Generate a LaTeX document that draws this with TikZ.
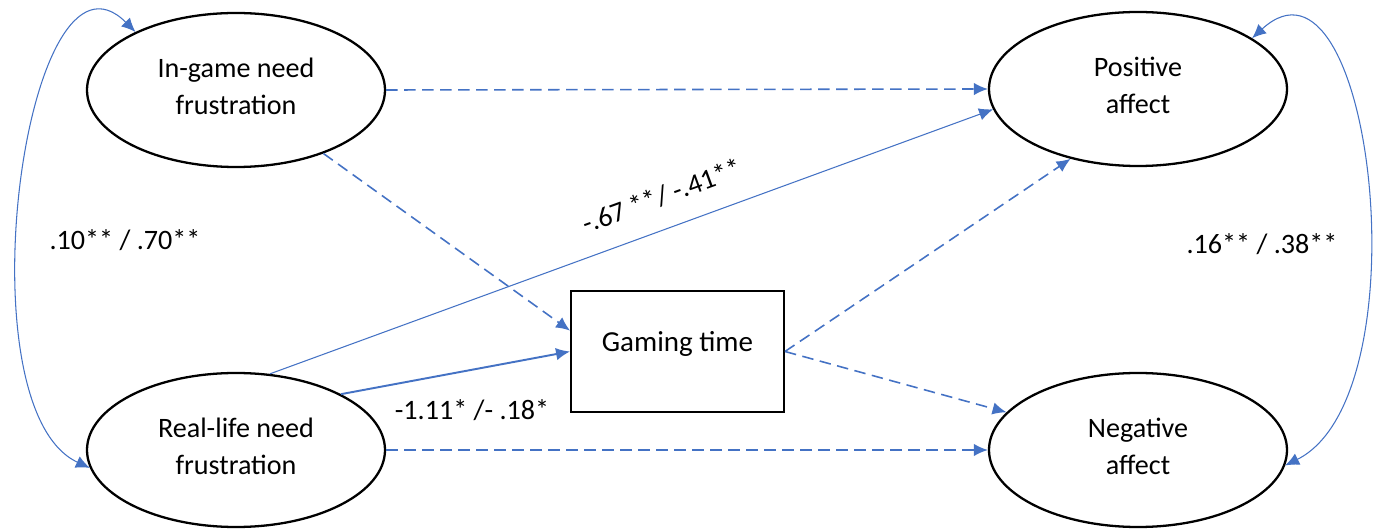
\documentclass[tikz,border=0pt]{standalone}
\usepackage{fontspec}
\setmainfont{Carlito}
\usetikzlibrary{shapes.geometric,arrows.meta}
\definecolor{lineblue}{HTML}{4472C4}

\begin{document}
\begin{tikzpicture}[
	lat/.style={draw,ellipse,line width=1.3pt,minimum width=5.96cm,minimum height=3.08cm,inner sep=0pt,text depth=0.16cm,align=center,font=\fontsize{16}{21}\selectfont},
	obs/.style={draw,rectangle,line width=1.1pt,minimum width=4.26cm,minimum height=2.42cm,text depth=0.4cm,font=\fontsize{16.5}{21}\selectfont},
	coef/.style={font=\fontsize{16}{21}\selectfont},
	reg/.style={lineblue,line width=0.6pt,-{Latex[length=2.8mm,width=2.5mm]}},
	nsig/.style={reg,line width=0.9pt,dash pattern=on 2.3mm off 1.3mm},
	cov/.style={lineblue,line width=0.6pt,{Latex[length=2.8mm,width=2.5mm]}-{Latex[length=2.8mm,width=2.5mm]}}]
	\useasboundingbox (0,0) rectangle (27.5,10.62);

	\node[lat] (ig) at (4.72,8.82) {In-game need\\frustration};
	\node[lat] (pa) at (22.76,8.84) {Positive\\affect};
	\node[lat] (rl) at (4.72,1.62) {Real-life need\\frustration};
	\node[lat] (na) at (22.76,1.62) {Negative\\affect};
	\node[obs] (gt) at (13.55,3.59) {Gaming time};

	\draw[nsig] (ig.east) -- (pa.west);
	\draw[nsig] (ig.-36) -- (gt.169);
	\draw[reg] (rl.66) -- (pa.-172);
	\draw[reg,line width=1.1pt] (rl.28) -- (gt.west);
	\draw[nsig] (rl.east) -- (na.west);
	\draw[nsig] (gt.east) -- (pa.-134);
	\draw[nsig] (gt.east) -- (na.164);

	\draw[cov] (ig.150) .. controls +(-2.2,2.2) and +(-2.6,1.2) .. (rl.187);
	\draw[cov] (pa.24) .. controls +(2.4,2.2) and +(2.8,1.4) .. (na.-6);

	\node[coef] (cin) at (2.5,5.82) {.10** / .70**};
	\node[coef] (cout) at (25.24,5.74) {.16** / .38**};
	\node[coef,rotate=20] (cpa) at (13.24,6.70) {-.67 **/ -.41**};
	\node[coef] (cna) at (9.44,2.42) {-1.11* /- .18*};
\end{tikzpicture}
\end{document}
